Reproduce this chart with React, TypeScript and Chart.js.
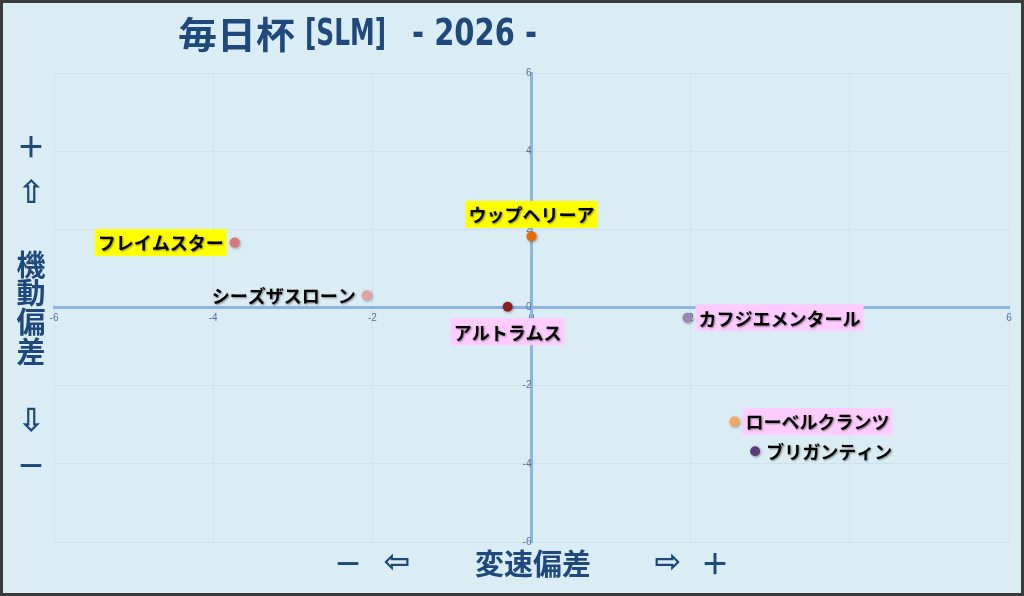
import React, { useEffect, useRef } from 'react';
import { Chart, registerables } from 'chart.js';

Chart.register(...registerables);

// ---- data ----
const horseNames = ['ウップヘリーア', 'フレイムスター', 'シーズザスローン', 'アルトラムス', 'カフジエメンタール', 'ローベルクランツ', 'ブリガンティン'];
const speedDeviation = [0.0, -3.73, -2.07, -0.3, 1.96, 2.55, 2.81];
const mobilityDeviation = [1.82, 1.66, 0.31, 0.02, -0.26, -2.92, -3.68];
const pointColors = ['#e36c0a', '#d9787a', '#e3a3a3', '#8b2222', '#9a86b4', '#f5a65f', '#5b3a78'];
const labelBackgrounds: (string | null)[] = ['#ffff00', '#ffff00', null, '#ffccff', '#ffccff', '#ffccff', null];
const labelSides = ['top', 'left', 'left', 'bottom', 'right', 'right', 'right'];

const axisMin = -6;
const axisMax = 6;
const axisStep = 2;

const titleParts = ['毎日杯', '[SLM]', '- 2026 -'];
const yAxisTitle = ['＋', '⇧', '機', '動', '偏', '差', '⇩', '－'];
const xAxisTitle = ['－', '⇦', '変速偏差', '⇨', '＋'];

const BG = '#dbedf4';
const NAVY = '#1f497d';

function fitText(ctx: CanvasRenderingContext2D, text: string, left: number, right: number, y: number) {
  const w = ctx.measureText(text).width;
  const target = right - left;
  ctx.save();
  ctx.translate(left, y);
  ctx.scale(target / w, 1);
  ctx.textAlign = 'left';
  ctx.fillText(text, 0, 0);
  ctx.restore();
}

const decorPlugin = {
  id: 'decor',
  beforeDraw(chart: any) {
    const ctx = chart.ctx as CanvasRenderingContext2D;
    ctx.save();
    ctx.fillStyle = BG;
    ctx.fillRect(0, 0, chart.width, chart.height);
    ctx.restore();
  },
  beforeDatasetDraw(chart: any) {
    const ctx = chart.ctx as CanvasRenderingContext2D;
    ctx.save();
    ctx.shadowColor = 'rgba(0,0,0,0.35)';
    ctx.shadowBlur = 3;
    ctx.shadowOffsetX = 1;
    ctx.shadowOffsetY = 1;
  },
  afterDatasetDraw(chart: any) {
    chart.ctx.restore();
  },
  afterDatasetsDraw(chart: any) {
    const ctx = chart.ctx as CanvasRenderingContext2D;
    const meta = chart.getDatasetMeta(0);
    ctx.save();
    ctx.font = "bold 18px 'Noto Sans CJK JP'";
    ctx.textBaseline = 'middle';
    meta.data.forEach((pt: any, i: number) => {
      const text = horseNames[i];
      const w = ctx.measureText(text).width;
      const side = labelSides[i];
      const padX = 3;
      const boxH = 27;
      const gap = 8;
      let cx = pt.x;
      let cy = pt.y;
      if (side === 'top') { cy = pt.y - 22; }
      else if (side === 'bottom') { cy = pt.y + 25; }
      else if (side === 'left') { cx = pt.x - gap - padX - w / 2; }
      else { cx = pt.x + gap + padX + w / 2; }
      const bg = labelBackgrounds[i];
      if (bg) {
        ctx.fillStyle = bg;
        ctx.fillRect(cx - w / 2 - padX, cy - boxH / 2, w + padX * 2, boxH);
      }
      ctx.save();
      ctx.shadowColor = 'rgba(0,0,0,0.45)';
      ctx.shadowBlur = 2;
      ctx.shadowOffsetX = 1;
      ctx.shadowOffsetY = 1;
      ctx.fillStyle = '#000000';
      ctx.textAlign = 'center';
      ctx.fillText(text, cx, cy + 1);
      ctx.restore();
    });
    ctx.restore();
  },
  afterDraw(chart: any) {
    const ctx = chart.ctx as CanvasRenderingContext2D;
    ctx.save();
    ctx.fillStyle = NAVY;
    ctx.textBaseline = 'middle';
    // title
    ctx.font = "bold 37px 'Noto Sans CJK JP'";
    fitText(ctx, titleParts[0], 178, 295, 35);
    ctx.font = "bold 38px 'DejaVu Sans Condensed', 'Noto Sans CJK JP'";
    fitText(ctx, titleParts[1], 305, 386, 35);
    fitText(ctx, titleParts[2], 412, 537, 35);

    // y axis title
    ctx.textAlign = 'center';
    const yPos = [147, 195, 265, 293, 322, 352, 423, 466];
    yAxisTitle.forEach((t, i) => {
      if (t === '⇧' || t === '⇩') ctx.font = "bold 32px 'DejaVu Sans', 'Noto Sans CJK JP'";
      else ctx.font = "bold 29px 'Noto Sans CJK JP'";
      ctx.fillText(t, 31, yPos[i]);
    });
    // x axis title
    const xPos = [348, 397, 533, 668, 715];
    xAxisTitle.forEach((t, i) => {
      if (t === '⇦' || t === '⇨') ctx.font = "bold 32px 'DejaVu Sans', 'Noto Sans CJK JP'";
      else ctx.font = "bold 29px 'Noto Sans CJK JP'";
      ctx.fillText(t, xPos[i], 564);
    });

    // outer border
    ctx.strokeStyle = '#3a3a3a';
    ctx.lineWidth = 3;
    ctx.strokeRect(1.5, 1.5, chart.width - 3, chart.height - 3);
    ctx.restore();
  },
};

export default function App() {
  const canvasRef = useRef<HTMLCanvasElement | null>(null);

  useEffect(() => {
    document.body.style.margin = '0';
    const canvas = canvasRef.current;
    if (!canvas) return;
    const chart = new Chart(canvas, {
      type: 'scatter',
      data: {
        datasets: [
          {
            label: 'horses',
            data: horseNames.map((_, i) => ({ x: speedDeviation[i], y: mobilityDeviation[i] })),
            pointBackgroundColor: pointColors,
            pointBorderColor: pointColors,
            pointBorderWidth: 0,
            pointRadius: 5,
            pointHoverRadius: 5,
          },
        ],
      },
      options: {
        responsive: false,
        animation: false,
        events: [],
        layout: { padding: { left: 54, right: 15, top: 73, bottom: 54 } },
        plugins: {
          legend: { display: false },
          tooltip: { enabled: false },
          title: { display: false },
        },
        scales: {
          x: {
            type: 'linear',
            min: axisMin,
            max: axisMax,
            position: { y: 0 } as any,
            grid: { color: '#cfe2ee', lineWidth: 1, drawTicks: false },
            border: { color: '#8db3e2', width: 3 },
            ticks: {
              stepSize: axisStep,
              padding: 5,
              color: '#56739e',
              font: { size: 10, family: "'Liberation Sans', sans-serif" },
              maxRotation: 0,
            },
          },
          y: {
            type: 'linear',
            min: axisMin,
            max: axisMax,
            position: { x: 0 } as any,
            grid: { color: '#cfe2ee', lineWidth: 1, drawTicks: false },
            border: { color: '#8db3e2', width: 3 },
            ticks: {
              stepSize: axisStep,
              padding: 7,
              color: '#56739e',
              font: { size: 10, family: "'Liberation Sans', sans-serif" },
            },
          },
        },
      },
      plugins: [decorPlugin],
    });
    return () => chart.destroy();
  }, []);

  return (
    <div style={{ position: 'fixed', left: 0, top: 0, width: 1024, height: 596 }}>
      <canvas ref={canvasRef} width={1024} height={596} style={{ width: 1024, height: 596, display: 'block' }} />
    </div>
  );
}
